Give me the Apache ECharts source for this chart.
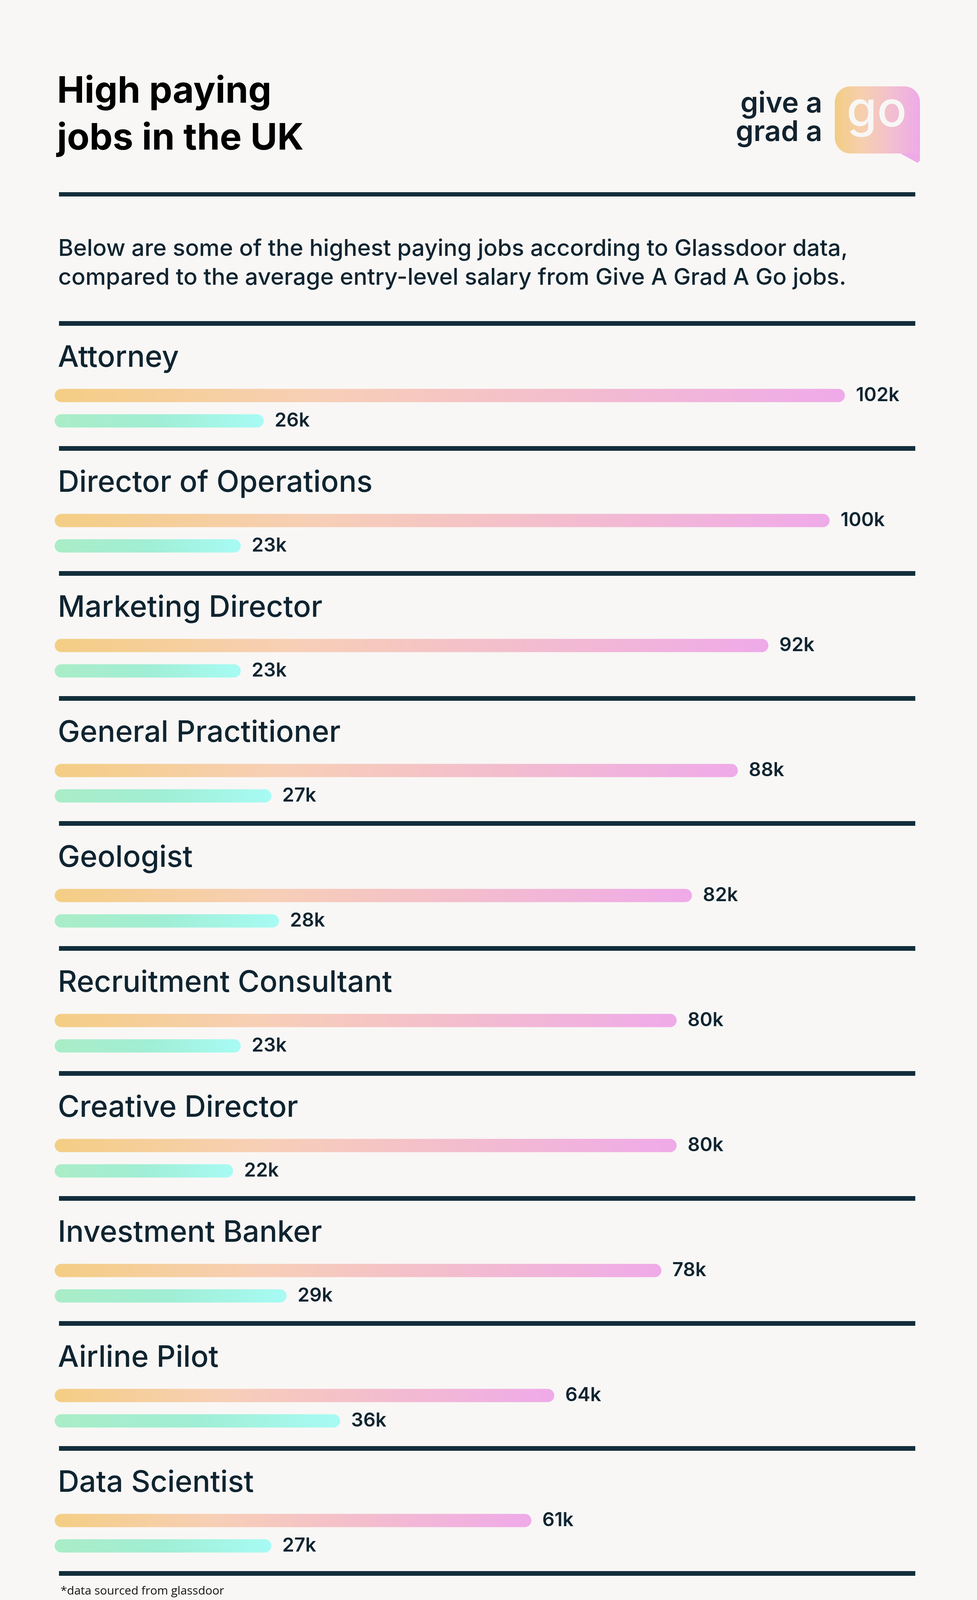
<!DOCTYPE html>
<html>
<head>
<meta charset="utf-8">
<title>High paying jobs in the UK</title>
<script src="https://cdn.jsdelivr.net/npm/echarts@6/dist/echarts.min.js"></script>
<style>
    html, body { margin: 0; padding: 0; background: #f8f7f5; }
    #main { width: 2501px; height: 4191px; }
</style>
</head>
<body>
<div id="main"></div>
<script>
// values, in thousands of pounds
var jobs = ['Attorney', 'Director of Operations', 'Marketing Director', 'General Practitioner',
    'Geologist', 'Recruitment Consultant', 'Creative Director', 'Investment Banker',
    'Airline Pilot', 'Data Scientist'];
var glassdoorSalary = [102, 100, 92, 88, 82, 80, 80, 78, 64, 61];
var entryLevelSalary = [26, 23, 23, 27, 28, 23, 22, 29, 36, 27];

var subtitleLines = [
    'Below are some of the highest paying jobs according to Glassdoor data,',
    'compared to the average entry-level salary from Give A Grad A Go jobs.'
];

var NAVY = '#0f2430';
var FONT = 'Inter';
// the rounded bar tail starts a little behind zero, bars are drawn from the axis start
var AXIS_MIN = -1.33;
var AXIS_MAX = 111.2;

var myChart = echarts.init(document.getElementById('main'));
window.onresize = function () {
    myChart.resize();
};

function hGradient(stops) {
    return new echarts.graphic.LinearGradient(0, 0, 1, 0, stops.map(function (c, i) {
        return { offset: i / (stops.length - 1), color: c };
    }));
}

// title, divider above each job, and the closing divider under the last one
function renderGroup(params, api) {
    var idx = api.value(1);
    var cy = api.coord([0, idx])[1];
    var cs = params.coordSys;
    var lineX = cs.x + 11;
    var lineW = cs.width - 11;
    var children = [
        {
            type: 'rect',
            shape: { x: lineX, y: cy - 223, width: lineW, height: 12 },
            style: { fill: '#122d3b' }
        },
        {
            type: 'text',
            style: {
                x: lineX - 3,
                y: cy - 129,
                text: jobs[idx],
                fill: NAVY,
                font: '500 76px ' + FONT,
                verticalAlign: 'middle'
            }
        }
    ];
    if (idx === jobs.length - 1) {
        children.push({
            type: 'rect',
            shape: { x: lineX, y: cy + 97, width: lineW, height: 12 },
            style: { fill: '#122d3b' }
        });
    }
    return { type: 'group', children: children };
}

// rounded gradient bar plus its "NNk" label; offset moves it inside the job's band
function barRenderer(offset, stops) {
    return function (params, api) {
        var value = api.value(0);
        var end = api.coord([value, api.value(1)]);
        var start = params.coordSys.x;
        var h = 34;
        var cy = end[1] + offset;
        return {
            type: 'group',
            children: [
                {
                    type: 'rect',
                    shape: { x: start, y: cy - h / 2, width: end[0] - start, height: h, r: h / 2 },
                    style: { fill: hGradient(stops) }
                },
                {
                    type: 'text',
                    style: {
                        x: end[0] + 28,
                        y: cy,
                        text: value + 'k',
                        fill: NAVY,
                        font: '600 49px ' + FONT,
                        verticalAlign: 'middle'
                    }
                }
            ]
        };
    };
}

function pairs(values) {
    return values.map(function (v, i) { return [v, i]; });
}

myChart.setOption({
    backgroundColor: '#f8f7f5',
    animation: false,
    grid: { left: 140, right: 158, top: 885, height: 3200 },
    xAxis: {
        type: 'value',
        min: AXIS_MIN,
        max: AXIS_MAX,
        show: false
    },
    yAxis: {
        type: 'category',
        data: jobs,
        inverse: true,
        show: false
    },
    graphic: [
        {
            type: 'text',
            style: { x: 146, y: 235, text: 'High paying', fill: '#000', font: '700 94px ' + FONT, verticalAlign: 'middle' }
        },
        {
            type: 'text',
            style: { x: 146, y: 355, text: 'jobs in the UK', fill: '#000', font: '700 94px ' + FONT, verticalAlign: 'middle' }
        },
        {
            type: 'text',
            style: { x: 2105, y: 266, text: 'give a', fill: '#12232f', font: '600 73px ' + FONT, align: 'right', verticalAlign: 'middle' }
        },
        {
            type: 'text',
            style: { x: 2105, y: 339, text: 'grad a', fill: '#12232f', font: '600 73px ' + FONT, align: 'right', verticalAlign: 'middle' }
        },
        {
            type: 'polygon',
            shape: { points: [[2300, 390], [2355, 390], [2355, 411], [2349, 417]] },
            style: { fill: '#eeaae8' }
        },
        {
            type: 'rect',
            shape: { x: 2137, y: 221, width: 218, height: 172, r: [40, 40, 0, 40] },
            style: { fill: hGradient(['#f3cd84', '#f6cfb0', '#f2bfd0', '#eeaae8']) }
        },
        {
            type: 'text',
            style: { x: 2244, y: 286, text: 'go', fill: '#f8f7f5', font: '500 126px ' + FONT, align: 'center', verticalAlign: 'middle' }
        },
        {
            type: 'rect',
            shape: { x: 151, y: 492, width: 2192, height: 11 },
            style: { fill: '#122d3b' }
        },
        {
            type: 'text',
            style: { x: 149, y: 637, text: subtitleLines[0], fill: NAVY, font: '500 59px ' + FONT, verticalAlign: 'middle' }
        },
        {
            type: 'text',
            style: { x: 149, y: 711, text: subtitleLines[1], fill: NAVY, font: '500 59px ' + FONT, verticalAlign: 'middle' }
        },
        {
            type: 'text',
            style: { x: 155, y: 4073, text: '*data sourced from glassdoor', fill: '#111', font: '400 30px "Open Sans"', verticalAlign: 'middle' }
        }
    ],
    series: [
        {
            type: 'custom',
            name: 'groups',
            silent: true,
            renderItem: renderGroup,
            encode: { x: 0, y: 1 },
            data: jobs.map(function (j, i) { return [0, i]; }),
            z: 1
        },
        {
            type: 'custom',
            name: 'Glassdoor',
            renderItem: barRenderer(-32.5, ['#f4ce84', '#f7cfb6', '#f3bccf', '#efaae9']),
            encode: { x: 0, y: 1 },
            data: pairs(glassdoorSalary),
            z: 2
        },
        {
            type: 'custom',
            name: 'Give A Grad A Go',
            renderItem: barRenderer(32.5, ['#aaedc7', '#a0eed5', '#a7fbf4']),
            encode: { x: 0, y: 1 },
            data: pairs(entryLevelSalary),
            z: 2
        }
    ]
});
</script>
</body>
</html>
